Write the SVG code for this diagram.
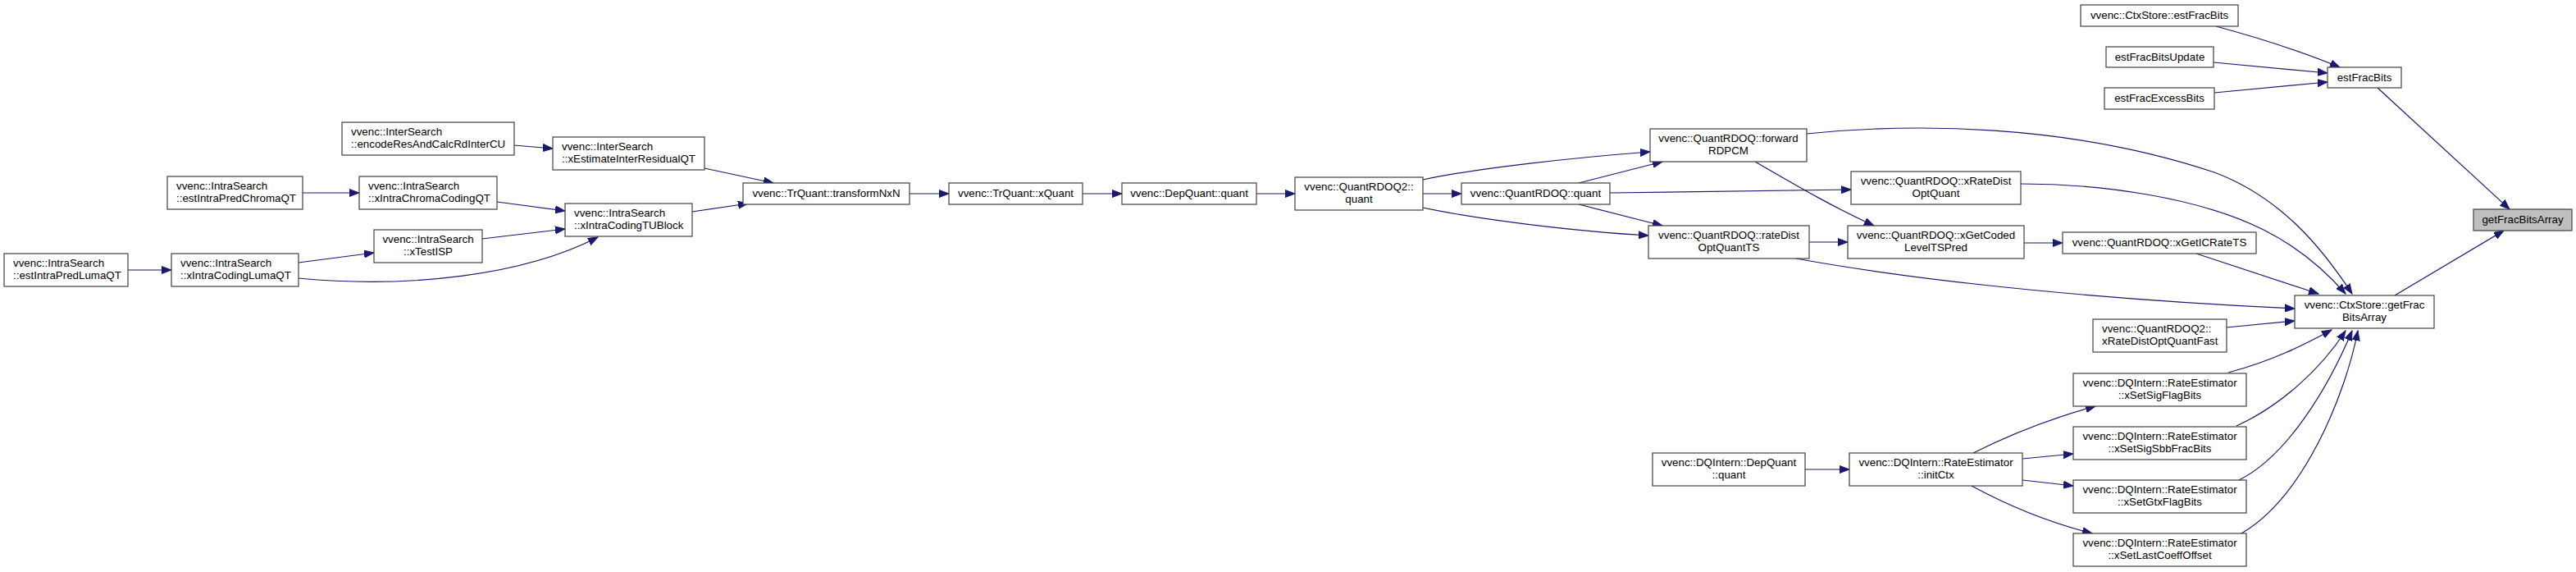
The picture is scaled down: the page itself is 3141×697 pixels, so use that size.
<svg xmlns="http://www.w3.org/2000/svg" width="3141" height="697" viewBox="0 0 3141 697">
<style>
.n rect{fill:#ffffff;stroke:#404040;stroke-width:1.2}
.n.cur rect{fill:#bfbfbf}
.n text{font-family:"Liberation Sans",Arial,sans-serif;font-size:13.33px;fill:#000}
.c{text-anchor:middle}
.e path{fill:none;stroke:#191970;stroke-width:1.2}
</style>
<defs>
<marker id="ah" markerWidth="13" markerHeight="10" refX="12" refY="5" orient="auto" markerUnits="userSpaceOnUse">
<path d="M0,0.5 L12,5 L0,9.5 Z" fill="#191970" stroke="#191970" stroke-width="1"/>
</marker>
</defs>
<rect x="0" y="0" width="3141" height="697" fill="#ffffff"/>
<g id="edges" class="e" marker-end="url(#ah)">
<path d="M156,329 L209,329" marker-end="url(#ah)"/>
<path d="M369,235 L438,235" marker-end="url(#ah)"/>
<path d="M364,320 L456,308" marker-end="url(#ah)"/>
<path d="M364,339 C500,352 640,335 729,289" marker-end="url(#ah)"/>
<path d="M606,246 L689,257" marker-end="url(#ah)"/>
<path d="M588,291 L689,279" marker-end="url(#ah)"/>
<path d="M627,177 L674,181" marker-end="url(#ah)"/>
<path d="M859,205 L943,223" marker-end="url(#ah)"/>
<path d="M844,258 L912,248" marker-end="url(#ah)"/>
<path d="M1109,236 L1157,236" marker-end="url(#ah)"/>
<path d="M1320,236 L1368,236" marker-end="url(#ah)"/>
<path d="M1532,236 L1579,236" marker-end="url(#ah)"/>
<path d="M1735,236 L1782,236" marker-end="url(#ah)"/>
<path d="M1735,219 C1800,205 1920,192 2012,185" marker-end="url(#ah)"/>
<path d="M1735,253 C1800,267 1920,282 2010,287" marker-end="url(#ah)"/>
<path d="M1925,223 L2027,197" marker-end="url(#ah)"/>
<path d="M1925,249 L2027,275" marker-end="url(#ah)"/>
<path d="M1963,235 L2257,231" marker-end="url(#ah)"/>
<path d="M2140,197 C2180,220 2230,250 2285,275" marker-end="url(#ah)"/>
<path d="M2206,295 L2253,295" marker-end="url(#ah)"/>
<path d="M2468,296 L2515,296" marker-end="url(#ah)"/>
<path d="M2203,163 C2330,150 2520,150 2700,210 C2780,240 2830,300 2868,358" marker-end="url(#ah)"/>
<path d="M2464,224 C2560,224 2680,240 2760,280 C2810,305 2840,335 2860,358" marker-end="url(#ah)"/>
<path d="M2678,309 L2827,358" marker-end="url(#ah)"/>
<path d="M2190,315 C2300,335 2500,362 2798,376" marker-end="url(#ah)"/>
<path d="M2715,399 L2798,391" marker-end="url(#ah)"/>
<path d="M2920,360 L3053,281" marker-end="url(#ah)"/>
<path d="M2899,107 L3060,255" marker-end="url(#ah)"/>
<path d="M2702,32 C2750,45 2800,60 2853,82" marker-end="url(#ah)"/>
<path d="M2699,76 L2838,89" marker-end="url(#ah)"/>
<path d="M2700,113 L2838,100" marker-end="url(#ah)"/>
<path d="M2201,572 L2255,572" marker-end="url(#ah)"/>
<path d="M2406,552 C2450,530 2500,510 2555,495" marker-end="url(#ah)"/>
<path d="M2466,559 L2528,553" marker-end="url(#ah)"/>
<path d="M2466,585 L2528,592" marker-end="url(#ah)"/>
<path d="M2404,592 C2450,617 2500,637 2551,650" marker-end="url(#ah)"/>
<path d="M2717,454 C2770,440 2810,420 2843,402" marker-end="url(#ah)"/>
<path d="M2727,519 C2780,495 2830,450 2860,403" marker-end="url(#ah)"/>
<path d="M2730,585 C2790,555 2840,470 2868,403" marker-end="url(#ah)"/>
<path d="M2733,650 C2810,605 2860,480 2875,403" marker-end="url(#ah)"/>
</g>
<g id="n1" class="n"><rect x="5" y="309" width="151" height="40"/><text x="16" y="325">vvenc::IntraSearch</text><text x="16" y="340">::estIntraPredLumaQT</text></g>
<g id="n2" class="n"><rect x="209" y="309" width="155" height="40"/><text x="220" y="325">vvenc::IntraSearch</text><text x="220" y="340">::xIntraCodingLumaQT</text></g>
<g id="n3" class="n"><rect x="204" y="215" width="165" height="40"/><text x="215" y="231">vvenc::IntraSearch</text><text x="215" y="246">::estIntraPredChromaQT</text></g>
<g id="n4" class="n"><rect x="438" y="215" width="168" height="40"/><text x="449" y="231">vvenc::IntraSearch</text><text x="449" y="246">::xIntraChromaCodingQT</text></g>
<g id="n5" class="n"><rect x="456" y="280" width="132" height="40"/><text class="c" x="522" y="296">vvenc::IntraSearch</text><text class="c" x="522" y="311">::xTestISP</text></g>
<g id="n6" class="n"><rect x="417" y="149" width="210" height="40"/><text x="428" y="165">vvenc::InterSearch</text><text x="428" y="180">::encodeResAndCalcRdInterCU</text></g>
<g id="n7" class="n"><rect x="674" y="167" width="185" height="40"/><text x="685" y="183">vvenc::InterSearch</text><text x="685" y="198">::xEstimateInterResidualQT</text></g>
<g id="n8" class="n"><rect x="689" y="248" width="155" height="40"/><text x="700" y="264">vvenc::IntraSearch</text><text x="700" y="279">::xIntraCodingTUBlock</text></g>
<g id="n9" class="n"><rect x="906" y="223" width="203" height="26"/><text class="c" x="1007.5" y="240">vvenc::TrQuant::transformNxN</text></g>
<g id="n10" class="n"><rect x="1157" y="223" width="163" height="26"/><text class="c" x="1238.5" y="240">vvenc::TrQuant::xQuant</text></g>
<g id="n11" class="n"><rect x="1368" y="223" width="164" height="26"/><text class="c" x="1450" y="240">vvenc::DepQuant::quant</text></g>
<g id="n12" class="n"><rect x="1579" y="216" width="156" height="40"/><text class="c" x="1657" y="232">vvenc::QuantRDOQ2::</text><text class="c" x="1657" y="247">quant</text></g>
<g id="n13" class="n"><rect x="1782" y="223" width="181" height="26"/><text class="c" x="1872.5" y="240">vvenc::QuantRDOQ::quant</text></g>
<g id="n14" class="n"><rect x="2012" y="157" width="191" height="40"/><text class="c" x="2107.5" y="173">vvenc::QuantRDOQ::forward</text><text class="c" x="2107.5" y="188">RDPCM</text></g>
<g id="n15" class="n"><rect x="2010" y="275" width="196" height="40"/><text class="c" x="2108" y="291">vvenc::QuantRDOQ::rateDist</text><text class="c" x="2108" y="306">OptQuantTS</text></g>
<g id="n16" class="n"><rect x="2257" y="209" width="207" height="40"/><text class="c" x="2360.5" y="225">vvenc::QuantRDOQ::xRateDist</text><text class="c" x="2360.5" y="240">OptQuant</text></g>
<g id="n17" class="n"><rect x="2253" y="275" width="215" height="40"/><text class="c" x="2360.5" y="291">vvenc::QuantRDOQ::xGetCoded</text><text class="c" x="2360.5" y="306">LevelTSPred</text></g>
<g id="n18" class="n"><rect x="2515" y="283" width="236" height="26"/><text class="c" x="2633" y="300">vvenc::QuantRDOQ::xGetICRateTS</text></g>
<g id="n19" class="n"><rect x="2798" y="360" width="170" height="40"/><text class="c" x="2883" y="376">vvenc::CtxStore::getFrac</text><text class="c" x="2883" y="391">BitsArray</text></g>
<g id="n20" class="n"><rect x="2552" y="389" width="163" height="40"/><text x="2563" y="405">vvenc::QuantRDOQ2::</text><text x="2563" y="420">xRateDistOptQuantFast</text></g>
<g id="n21" class="n"><rect x="2528" y="455" width="211" height="40"/><text class="c" x="2633.5" y="471">vvenc::DQIntern::RateEstimator</text><text class="c" x="2633.5" y="486">::xSetSigFlagBits</text></g>
<g id="n22" class="n"><rect x="2528" y="520" width="211" height="40"/><text class="c" x="2633.5" y="536">vvenc::DQIntern::RateEstimator</text><text class="c" x="2633.5" y="551">::xSetSigSbbFracBits</text></g>
<g id="n23" class="n"><rect x="2528" y="585" width="211" height="40"/><text class="c" x="2633.5" y="601">vvenc::DQIntern::RateEstimator</text><text class="c" x="2633.5" y="616">::xSetGtxFlagBits</text></g>
<g id="n24" class="n"><rect x="2528" y="650" width="211" height="40"/><text class="c" x="2633.5" y="666">vvenc::DQIntern::RateEstimator</text><text class="c" x="2633.5" y="681">::xSetLastCoeffOffset</text></g>
<g id="n25" class="n"><rect x="2015" y="552" width="186" height="40"/><text class="c" x="2108" y="568">vvenc::DQIntern::DepQuant</text><text class="c" x="2108" y="583">::quant</text></g>
<g id="n26" class="n"><rect x="2255" y="552" width="211" height="40"/><text class="c" x="2360.5" y="568">vvenc::DQIntern::RateEstimator</text><text class="c" x="2360.5" y="583">::initCtx</text></g>
<g id="n27" class="n"><rect x="2537" y="6" width="192" height="26"/><text class="c" x="2633" y="23">vvenc::CtxStore::estFracBits</text></g>
<g id="n28" class="n"><rect x="2568" y="57" width="131" height="25"/><text class="c" x="2633.5" y="74">estFracBitsUpdate</text></g>
<g id="n29" class="n"><rect x="2566" y="107" width="134" height="26"/><text class="c" x="2633" y="124">estFracExcessBits</text></g>
<g id="n30" class="n"><rect x="2838" y="82" width="90" height="25"/><text class="c" x="2883" y="99">estFracBits</text></g>
<g id="n31" class="n cur"><rect x="3016" y="255" width="120" height="26"/><text class="c" x="3076" y="272">getFracBitsArray</text></g>
</svg>
